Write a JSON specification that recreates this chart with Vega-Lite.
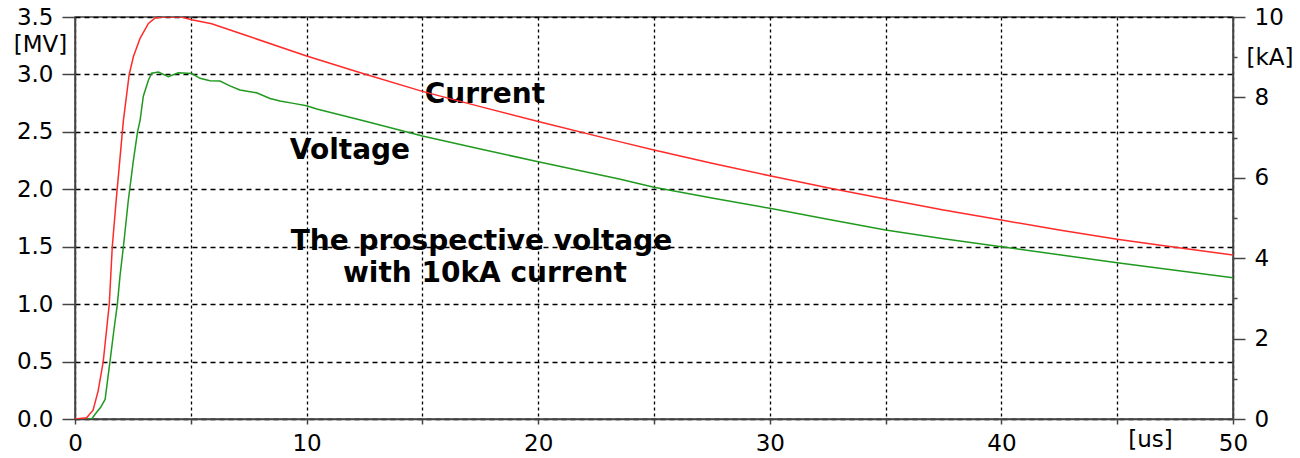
{
  "$schema": "https://vega.github.io/schema/vega-lite/v6.json",
  "autosize": {"type": "none"},
  "width": 1158,
  "height": 402,
  "padding": {"left": 75, "top": 17, "right": 67, "bottom": 39},
  "background": "white",
  "config": {
    "view": {"stroke": "#444", "strokeWidth": 1.5},
    "font": "DejaVu Sans",
    "axis": {
      "labelFont": "DejaVu Sans",
      "labelFontSize": 23,
      "labelColor": "#000",
      "titleFont": "DejaVu Sans",
      "titleFontSize": 23,
      "titleFontWeight": "normal",
      "titleColor": "#000",
      "domainColor": "#444",
      "domainWidth": 1.5,
      "tickColor": "#444",
      "tickWidth": 1.5,
      "gridColor": "#000",
      "gridOpacity": 1,
      "gridWidth": 1.3
    }
  },
  "datasets": {
    "voltage": [
      {"t": 0, "MV": 0}, {"t": 0.72, "MV": 0}, {"t": 0.9, "MV": 0.05}, {"t": 1.1, "MV": 0.1},
      {"t": 1.3, "MV": 0.17}, {"t": 1.51, "MV": 0.5}, {"t": 1.68, "MV": 0.775}, {"t": 1.83, "MV": 1.0},
      {"t": 1.94, "MV": 1.24}, {"t": 2.09, "MV": 1.5}, {"t": 2.3, "MV": 1.9}, {"t": 2.52, "MV": 2.25},
      {"t": 2.7, "MV": 2.5}, {"t": 2.81, "MV": 2.6}, {"t": 2.95, "MV": 2.81}, {"t": 3.17, "MV": 2.95},
      {"t": 3.31, "MV": 3.01}, {"t": 3.6, "MV": 3.02}, {"t": 4.03, "MV": 2.98}, {"t": 4.46, "MV": 3.015},
      {"t": 5.04, "MV": 3.008}, {"t": 5.4, "MV": 2.966}, {"t": 5.83, "MV": 2.945}, {"t": 6.26, "MV": 2.943},
      {"t": 6.69, "MV": 2.9}, {"t": 7.12, "MV": 2.864}, {"t": 7.84, "MV": 2.84}, {"t": 8.42, "MV": 2.79},
      {"t": 8.85, "MV": 2.769}, {"t": 9.43, "MV": 2.748}, {"t": 10, "MV": 2.728}, {"t": 10.44, "MV": 2.699},
      {"t": 12.5, "MV": 2.595}, {"t": 15, "MV": 2.464}, {"t": 17.5, "MV": 2.35}, {"t": 20, "MV": 2.24},
      {"t": 23.5, "MV": 2.09}, {"t": 25, "MV": 2.017}, {"t": 27.5, "MV": 1.925}, {"t": 30, "MV": 1.834},
      {"t": 32.5, "MV": 1.74}, {"t": 35, "MV": 1.645}, {"t": 37.5, "MV": 1.57}, {"t": 40, "MV": 1.5},
      {"t": 42.5, "MV": 1.43}, {"t": 45, "MV": 1.361}, {"t": 47.5, "MV": 1.295}, {"t": 50, "MV": 1.23}
    ],
    "current": [
      {"t": 0, "kA": 0}, {"t": 0.5, "kA": 0.03}, {"t": 0.78, "kA": 0.22}, {"t": 1.0, "kA": 0.7},
      {"t": 1.22, "kA": 1.43}, {"t": 1.48, "kA": 2.86}, {"t": 1.61, "kA": 4.29}, {"t": 1.78, "kA": 5.45},
      {"t": 2.09, "kA": 7.43}, {"t": 2.34, "kA": 8.57}, {"t": 2.52, "kA": 9.01}, {"t": 2.81, "kA": 9.47},
      {"t": 3.17, "kA": 9.84}, {"t": 3.45, "kA": 9.97}, {"t": 3.74, "kA": 10}, {"t": 4.6, "kA": 10},
      {"t": 5.04, "kA": 9.93}, {"t": 5.9, "kA": 9.83}, {"t": 7.5, "kA": 9.52},
      {"t": 10, "kA": 9.03}, {"t": 12.5, "kA": 8.58}, {"t": 15, "kA": 8.15}, {"t": 17.5, "kA": 7.77},
      {"t": 20, "kA": 7.4}, {"t": 23.5, "kA": 6.9}, {"t": 25, "kA": 6.69}, {"t": 27.5, "kA": 6.36},
      {"t": 30, "kA": 6.05}, {"t": 32.5, "kA": 5.75}, {"t": 35, "kA": 5.47}, {"t": 37.5, "kA": 5.2},
      {"t": 40, "kA": 4.95}, {"t": 42.5, "kA": 4.7}, {"t": 45, "kA": 4.47}, {"t": 47.5, "kA": 4.27},
      {"t": 50, "kA": 4.08}
    ],
    "notes": [
      {"t": 17.7, "MV": 2.821, "text": "Current"},
      {"t": 11.87, "MV": 2.333, "text": "Voltage"},
      {"t": 17.55, "MV": 1.541, "text": "The prospective voltage"},
      {"t": 17.7, "MV": 1.262, "text": "with 10kA current"}
    ]
  },
  "layer": [
    {
      "layer": [
        {
          "data": {"name": "voltage"},
          "mark": {"type": "line", "color": "#1f9a1f", "strokeWidth": 1.5, "clip": true},
          "encoding": {
            "x": {
              "field": "t", "type": "quantitative",
              "scale": {"domain": [0, 50], "nice": false},
              "axis": {
                "values": [0, 5, 10, 15, 20, 25, 30, 35, 40, 45, 50],
                "labelExpr": "datum.value % 10 == 0 ? datum.label : ''",
                "format": "d",
                "tickSize": 5,
                "labelPadding": 8,
                "grid": true,
                "gridDash": [3, 3],
                "labelFlush": false,
                "labelOverlap": false,
                "title": "[us]",
                "titleX": 1075,
                "titleY": 20,
                "titleAlign": "center",
                "titleBaseline": "middle"
              }
            },
            "y": {
              "field": "MV", "type": "quantitative",
              "scale": {"domain": [0, 3.5], "nice": false},
              "axis": {
                "values": [0, 0.5, 1, 1.5, 2, 2.5, 3, 3.5],
                "format": ".1f",
                "tickSize": 13,
                "labelPadding": 9,
                "grid": true,
                "gridDash": [5, 4],
                "labelFlush": false,
                "labelOverlap": false,
                "title": "[MV]",
                "titleAngle": 0,
                "titleX": -35,
                "titleY": 27,
                "titleAlign": "center",
                "titleBaseline": "middle"
              }
            }
          }
        },
        {
          "data": {"name": "notes"},
          "mark": {"type": "text", "font": "DejaVu Sans", "fontWeight": "bold", "fontSize": 28, "color": "#000", "align": "center", "baseline": "middle"},
          "encoding": {
            "x": {"field": "t", "type": "quantitative"},
            "y": {"field": "MV", "type": "quantitative"},
            "text": {"field": "text"}
          }
        }
      ]
    },
    {
      "data": {"name": "current"},
      "mark": {"type": "line", "color": "#ff2a2a", "strokeWidth": 1.5, "clip": true},
      "encoding": {
        "x": {"field": "t", "type": "quantitative"},
        "y": {
          "field": "kA", "type": "quantitative",
          "scale": {"domain": [0, 10], "nice": false},
          "axis": {
            "orient": "right",
            "values": [0, 1, 2, 3, 4, 5, 6, 7, 8, 9, 10],
            "labelExpr": "datum.value == 9 ? '[kA]' : (datum.value % 2 == 0 ? datum.label : '')",
            "tickSize": {"condition": {"test": "datum.value % 2 == 0", "value": 12}, "value": 4},
            "labelPadding": 9,
            "grid": false,
            "labelFlush": false,
            "labelOverlap": false,
            "title": null
          }
        }
      }
    }
  ],
  "resolve": {"scale": {"y": "independent"}}
}
